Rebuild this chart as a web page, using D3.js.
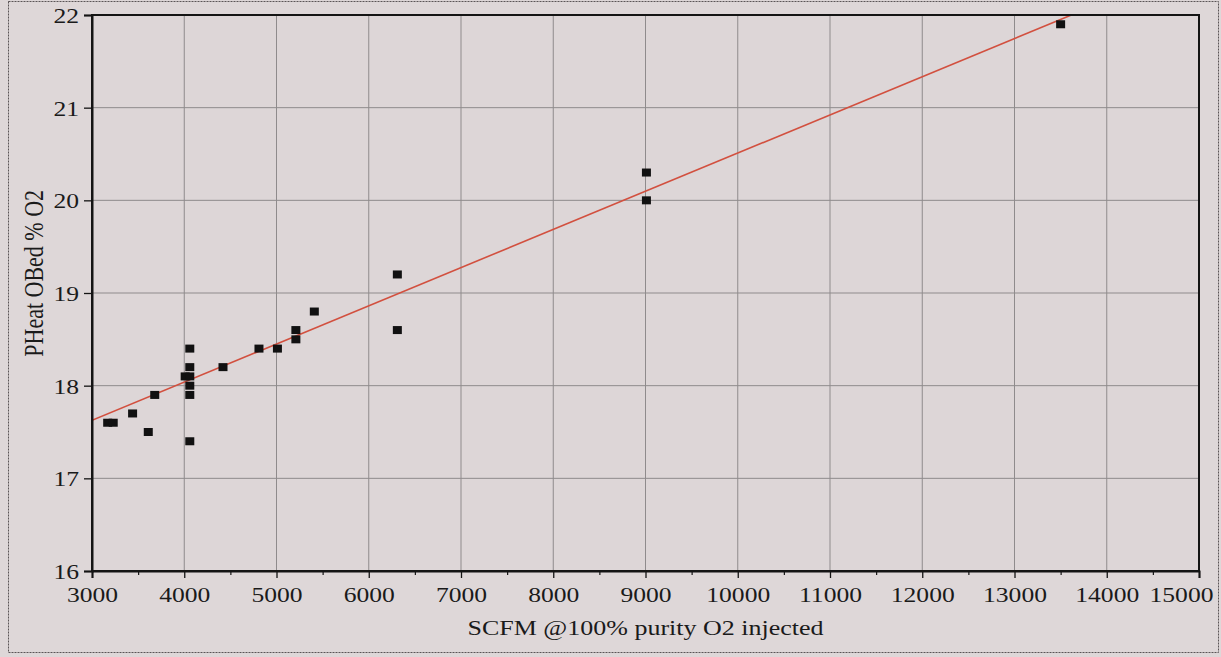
<!DOCTYPE html>
<html>
<head>
<meta charset="utf-8">
<script src="https://cdn.jsdelivr.net/npm/d3@7"></script>
<style>
  html, body { margin: 0; padding: 0; background: #ded7d8; }
  svg { display: block; }
  text { font-family: "Liberation Serif", "DejaVu Serif", serif; fill: #1a1a1a; }
</style>
</head>
<body>
<svg id="chart" width="1221" height="657"></svg>
<script>
// ---- data ----
const xValues = [3170, 3230, 3440, 3610, 3680, 4010, 4060, 4060, 4060, 4060, 4060, 4060, 4420, 4810, 5010, 5210, 5210, 5410, 6310, 6310, 9010, 9010, 13500];
const yValues = [17.6, 17.6, 17.7, 17.5, 17.9, 18.1, 18.4, 18.2, 18.1, 18.0, 17.9, 17.4, 18.2, 18.4, 18.4, 18.6, 18.5, 18.8, 19.2, 18.6, 20.3, 20.0, 21.9];
const xTicks = [3000, 4000, 5000, 6000, 7000, 8000, 9000, 10000, 11000, 12000, 13000, 14000, 15000];
const xMinorTicks = [3500, 4500, 5500, 6500, 7500, 8500, 9500, 10500, 11500, 12500, 13500, 14500];
const yTicks = [16, 17, 18, 19, 20, 21, 22];
const fitIntercept = 16.39;
const fitSlope = 0.000412;
const xTitle = "SCFM @100% purity O2 injected";
const yTitle = "PHeat OBed % O2";

// ---- layout ----
const L = 92, R = 1199, T = 15, B = 571;

const svg = d3.select("#chart");
const x = d3.scaleLinear().domain([3000, 15000]).range([L, R]);
const y = d3.scaleLinear().domain([16, 22]).range([B, T]);

// outer dashed frame
svg.append("rect").attr("x", 8.5).attr("y", 1.5).attr("width", 1210).attr("height", 651)
  .attr("fill", "none").attr("stroke", "#5a5456").attr("stroke-width", 1).attr("stroke-dasharray", "2,1");

// plot background
svg.append("rect").attr("x", L).attr("y", T).attr("width", R - L).attr("height", B - T).attr("fill", "#ddd6d7");

// grid
svg.append("g").selectAll("line").data(xTicks.slice(1, -1)).join("line")
  .attr("x1", d => x(d)).attr("x2", d => x(d)).attr("y1", T).attr("y2", B)
  .attr("stroke", "#8f8b8c").attr("stroke-width", 1);
svg.append("g").selectAll("line").data(yTicks.slice(1, -1)).join("line")
  .attr("x1", L).attr("x2", R).attr("y1", d => y(d)).attr("y2", d => y(d))
  .attr("stroke", "#8f8b8c").attr("stroke-width", 1);

// fit line (clipped to plot)
svg.append("clipPath").attr("id", "clip").append("rect")
  .attr("x", L).attr("y", T).attr("width", R - L).attr("height", B - T);
const fx = [3000, 15000];
svg.append("line")
  .attr("clip-path", "url(#clip)")
  .attr("x1", x(fx[0])).attr("y1", y(fitIntercept + fitSlope * fx[0]))
  .attr("x2", x(fx[1])).attr("y2", y(fitIntercept + fitSlope * fx[1]))
  .attr("stroke", "#d2503f").attr("stroke-width", 1.6);

// points
const pts = xValues.map((v, i) => ({x: v, y: yValues[i]}));
svg.append("g").selectAll("rect").data(pts).join("rect")
  .attr("x", d => x(d.x) - 4.5).attr("y", d => y(d.y) - 4)
  .attr("width", 9).attr("height", 8).attr("fill", "#111");

// frame
svg.append("rect").attr("x", L).attr("y", T).attr("width", R - L).attr("height", B - T)
  .attr("fill", "none").attr("stroke", "#141414").attr("stroke-width", 2);

// x axis
const XS = 1.28;
const xAxis = d3.axisBottom(x).tickValues(xTicks).tickSize(7).tickPadding(10).tickFormat(d3.format("d"));
const gx = svg.append("g").attr("transform", `translate(0,${B})`).call(xAxis);
gx.select(".domain").attr("stroke", "#141414").attr("stroke-width", 2);
gx.selectAll(".tick line").attr("stroke", "#141414").attr("stroke-width", 1.3);
gx.selectAll(".tick text").attr("font-size", 20).attr("font-family", "Liberation Serif")
  .attr("fill", "#1a1a1a").attr("transform", `scale(${XS},1)`);
// last label is pushed left to stay inside the figure
gx.selectAll(".tick").filter(d => d === xTicks[xTicks.length - 1]).select("text")
  .attr("text-anchor", "end").attr("x", (1213 - x(xTicks[xTicks.length - 1])) / XS);
const xMinor = d3.axisBottom(x).tickValues(xMinorTicks).tickSize(4).tickFormat("");
const gxm = svg.append("g").attr("transform", `translate(0,${B})`).call(xMinor);
gxm.select(".domain").remove();
gxm.selectAll(".tick line").attr("stroke", "#141414").attr("stroke-width", 1.2);

// y axis
const YS = 1.22;
const yAxis = d3.axisLeft(y).tickValues(yTicks).tickSize(8).tickPadding(5).tickFormat(d3.format("d"));
const gy = svg.append("g").attr("transform", `translate(${L},0)`).call(yAxis);
gy.select(".domain").attr("stroke", "#141414").attr("stroke-width", 2);
gy.selectAll(".tick line").attr("stroke", "#141414").attr("stroke-width", 1.3);
gy.selectAll(".tick text").attr("font-size", 21).attr("font-family", "Liberation Serif")
  .attr("fill", "#1a1a1a").attr("transform", `scale(${YS},1)`).attr("x", -13 / YS).attr("dy", "0.36em");

// axis titles
svg.append("text")
  .attr("transform", `translate(${(L + R) / 2},635) scale(1.3,1)`)
  .attr("text-anchor", "middle").attr("font-size", 20).text(xTitle);
svg.append("text")
  .attr("transform", `translate(43,190) scale(1.2,1) rotate(-90)`)
  .attr("text-anchor", "end").attr("font-size", 22).text(yTitle);
</script>
</body>
</html>
